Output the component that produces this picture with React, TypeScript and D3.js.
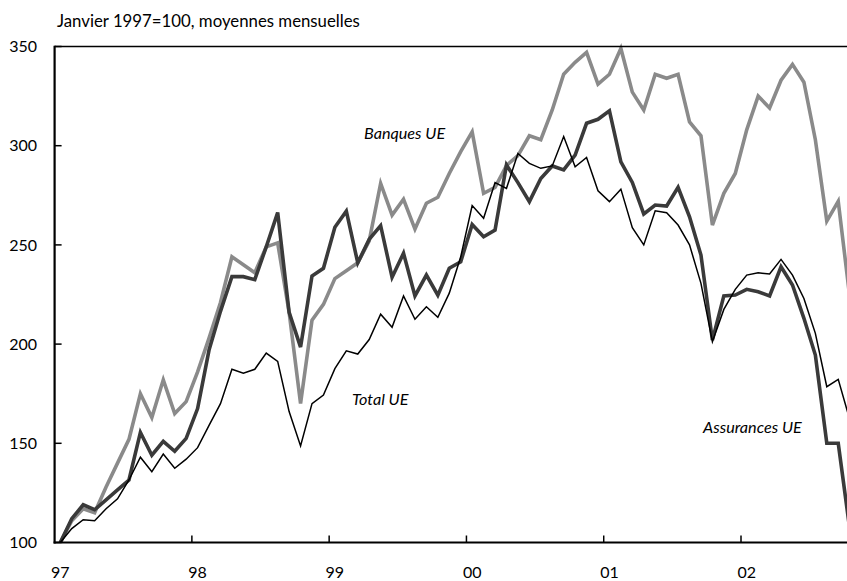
import React from "react";
import * as d3 from "d3";

const yearLabels = ["97", "98", "99", "00", "01", "02"];
const yTicks = [100, 150, 200, 250, 300, 350];

const banques = [
  100, 111, 117, 115, 128, 140, 152, 175, 163, 182, 165, 171,
  186, 203, 221, 244, 240, 236, 249, 251, 216, 170, 212, 220,
  233, 237, 241, 252, 281, 265, 273, 258, 271, 274, 286, 297,
  307, 276, 279, 290, 295, 305, 303, 318, 336, 342, 347, 331,
  336, 349, 327, 318, 336, 334, 336, 312, 305, 260, 276, 286,
  308, 325, 319, 333, 341, 332, 303, 262, 272, 224,
];

const assurances = [
  100, 112, 119, 116.5, 121.5, 126.5, 131.5, 155.5, 144, 151, 146, 152.5,
  167.5, 197, 216.5, 234, 234, 232.5, 249, 266.3, 216, 198.5, 234.3, 238.2,
  258.9, 267, 241, 252.8, 259.7, 233.7, 245.8, 224.3, 234.8, 224.7, 238.2, 241.5,
  260.3, 254.1, 257.5, 290.3, 281.4, 271.8, 283.5, 289.8, 287.8, 295.3, 311.3, 313.3,
  317.6, 291.9, 281.5, 265.6, 270.1, 269.6, 279, 264.2, 244.9, 202, 224.3, 224.7,
  227.6, 226.4, 224.3, 239, 229.8, 213, 194.5, 150, 150, 107,
];

const total = [
  100, 107, 111.5, 111, 117, 122, 131.5, 143, 135.7, 144.6, 137.4, 142,
  147.8, 159, 170, 187.3, 185.3, 187.3, 195.5, 191.3, 166, 148.7, 170, 174.3,
  187.6, 196.6, 195, 202.3, 215.1, 208.5, 224.3, 212.5, 218.8, 213.5, 225.7, 244,
  269.8, 263.4, 281.4, 278.5, 296.1, 291.1, 288.6, 289.8, 304.6, 289.4, 294.1, 277.3,
  271.8, 278.1, 258.7, 250, 267.2, 266.2, 260, 250, 230.6, 201.2, 217.5, 227.6,
  234.8, 236, 235.3, 242.7, 234.8, 223, 205.4, 178.5, 182.2, 162,
];

const W = 847;
const H = 581;
const FONT = "'Lato', 'Open Sans', sans-serif";

export default function App() {
  const left = 54.6;
  const top = 46.5;
  const bottom = 542.5;
  // months scale: boundary of month m (0 = start Jan 1997)
  const x = d3.scaleLinear().domain([0, 60]).range([left, 741]);
  const y = d3.scaleLinear().domain([100, 350]).range([bottom, top]);
  const line = d3
    .line<number>()
    .x((_, i) => x(i + 0.5))
    .y((d) => y(d));

  return (
    <svg
      width={W}
      height={H}
      style={{ position: "absolute", left: 0, top: 0, background: "#fff" }}
      fontFamily={FONT}
    >
      <defs>
        <clipPath id="plot">
          <rect x={left} y={top - 4} width={W - left} height={bottom - top + 4} />
        </clipPath>
      </defs>
      <text x={57} y={27} fontSize={16.8} fill="#000">
        Janvier 1997=100, moyennes mensuelles
      </text>

      {/* series */}
      <g clipPath="url(#plot)">
        <path d={line(banques) || ""} fill="none" stroke="#8a8a8a" strokeWidth={3.6} strokeLinejoin="miter" />
        <path d={line(assurances) || ""} fill="none" stroke="#3a3a3a" strokeWidth={3.6} strokeLinejoin="miter" />
        <path d={line(total) || ""} fill="none" stroke="#000" strokeWidth={1.5} strokeLinejoin="miter" />
      </g>

      {/* frame */}
      <line x1={left} x2={W} y1={top} y2={top} stroke="#000" strokeWidth={1.5} />
      <line x1={left} x2={left} y1={top - 0.75} y2={bottom + 1} stroke="#000" strokeWidth={2.2} />
      <line x1={left - 1} x2={W} y1={bottom} y2={bottom} stroke="#000" strokeWidth={2.2} />

      {/* y ticks */}
      {yTicks.map((t) => (
        <g key={t}>
          <line x1={left} x2={left + 7} y1={y(t)} y2={y(t)} stroke="#000" strokeWidth={1.5} />
          <text x={37} y={y(t)} dy="0.35em" textAnchor="end" fontSize={16} fill="#000">
            {t}
          </text>
        </g>
      ))}

      {/* x ticks */}
      {yearLabels.map((lab, k) => (
        <g key={lab}>
          {k > 0 && (
            <line x1={x(k * 12)} x2={x(k * 12)} y1={bottom} y2={bottom - 7} stroke="#000" strokeWidth={1.5} />
          )}
          <text x={x(k * 12 + 0.5)} y={572} dy="0.35em" textAnchor="middle" fontSize={16} fill="#000">
            {lab}
          </text>
        </g>
      ))}

      {/* series labels */}
      <text x={364} y={133} dy="0.35em" fontSize={16.2} fontStyle="italic" fill="#000">
        Banques UE
      </text>
      <text x={352} y={399} dy="0.35em" fontSize={16.2} fontStyle="italic" fill="#000">
        Total UE
      </text>
      <text x={703} y={427} dy="0.35em" fontSize={16.2} fontStyle="italic" fill="#000">
        Assurances UE
      </text>
    </svg>
  );
}
